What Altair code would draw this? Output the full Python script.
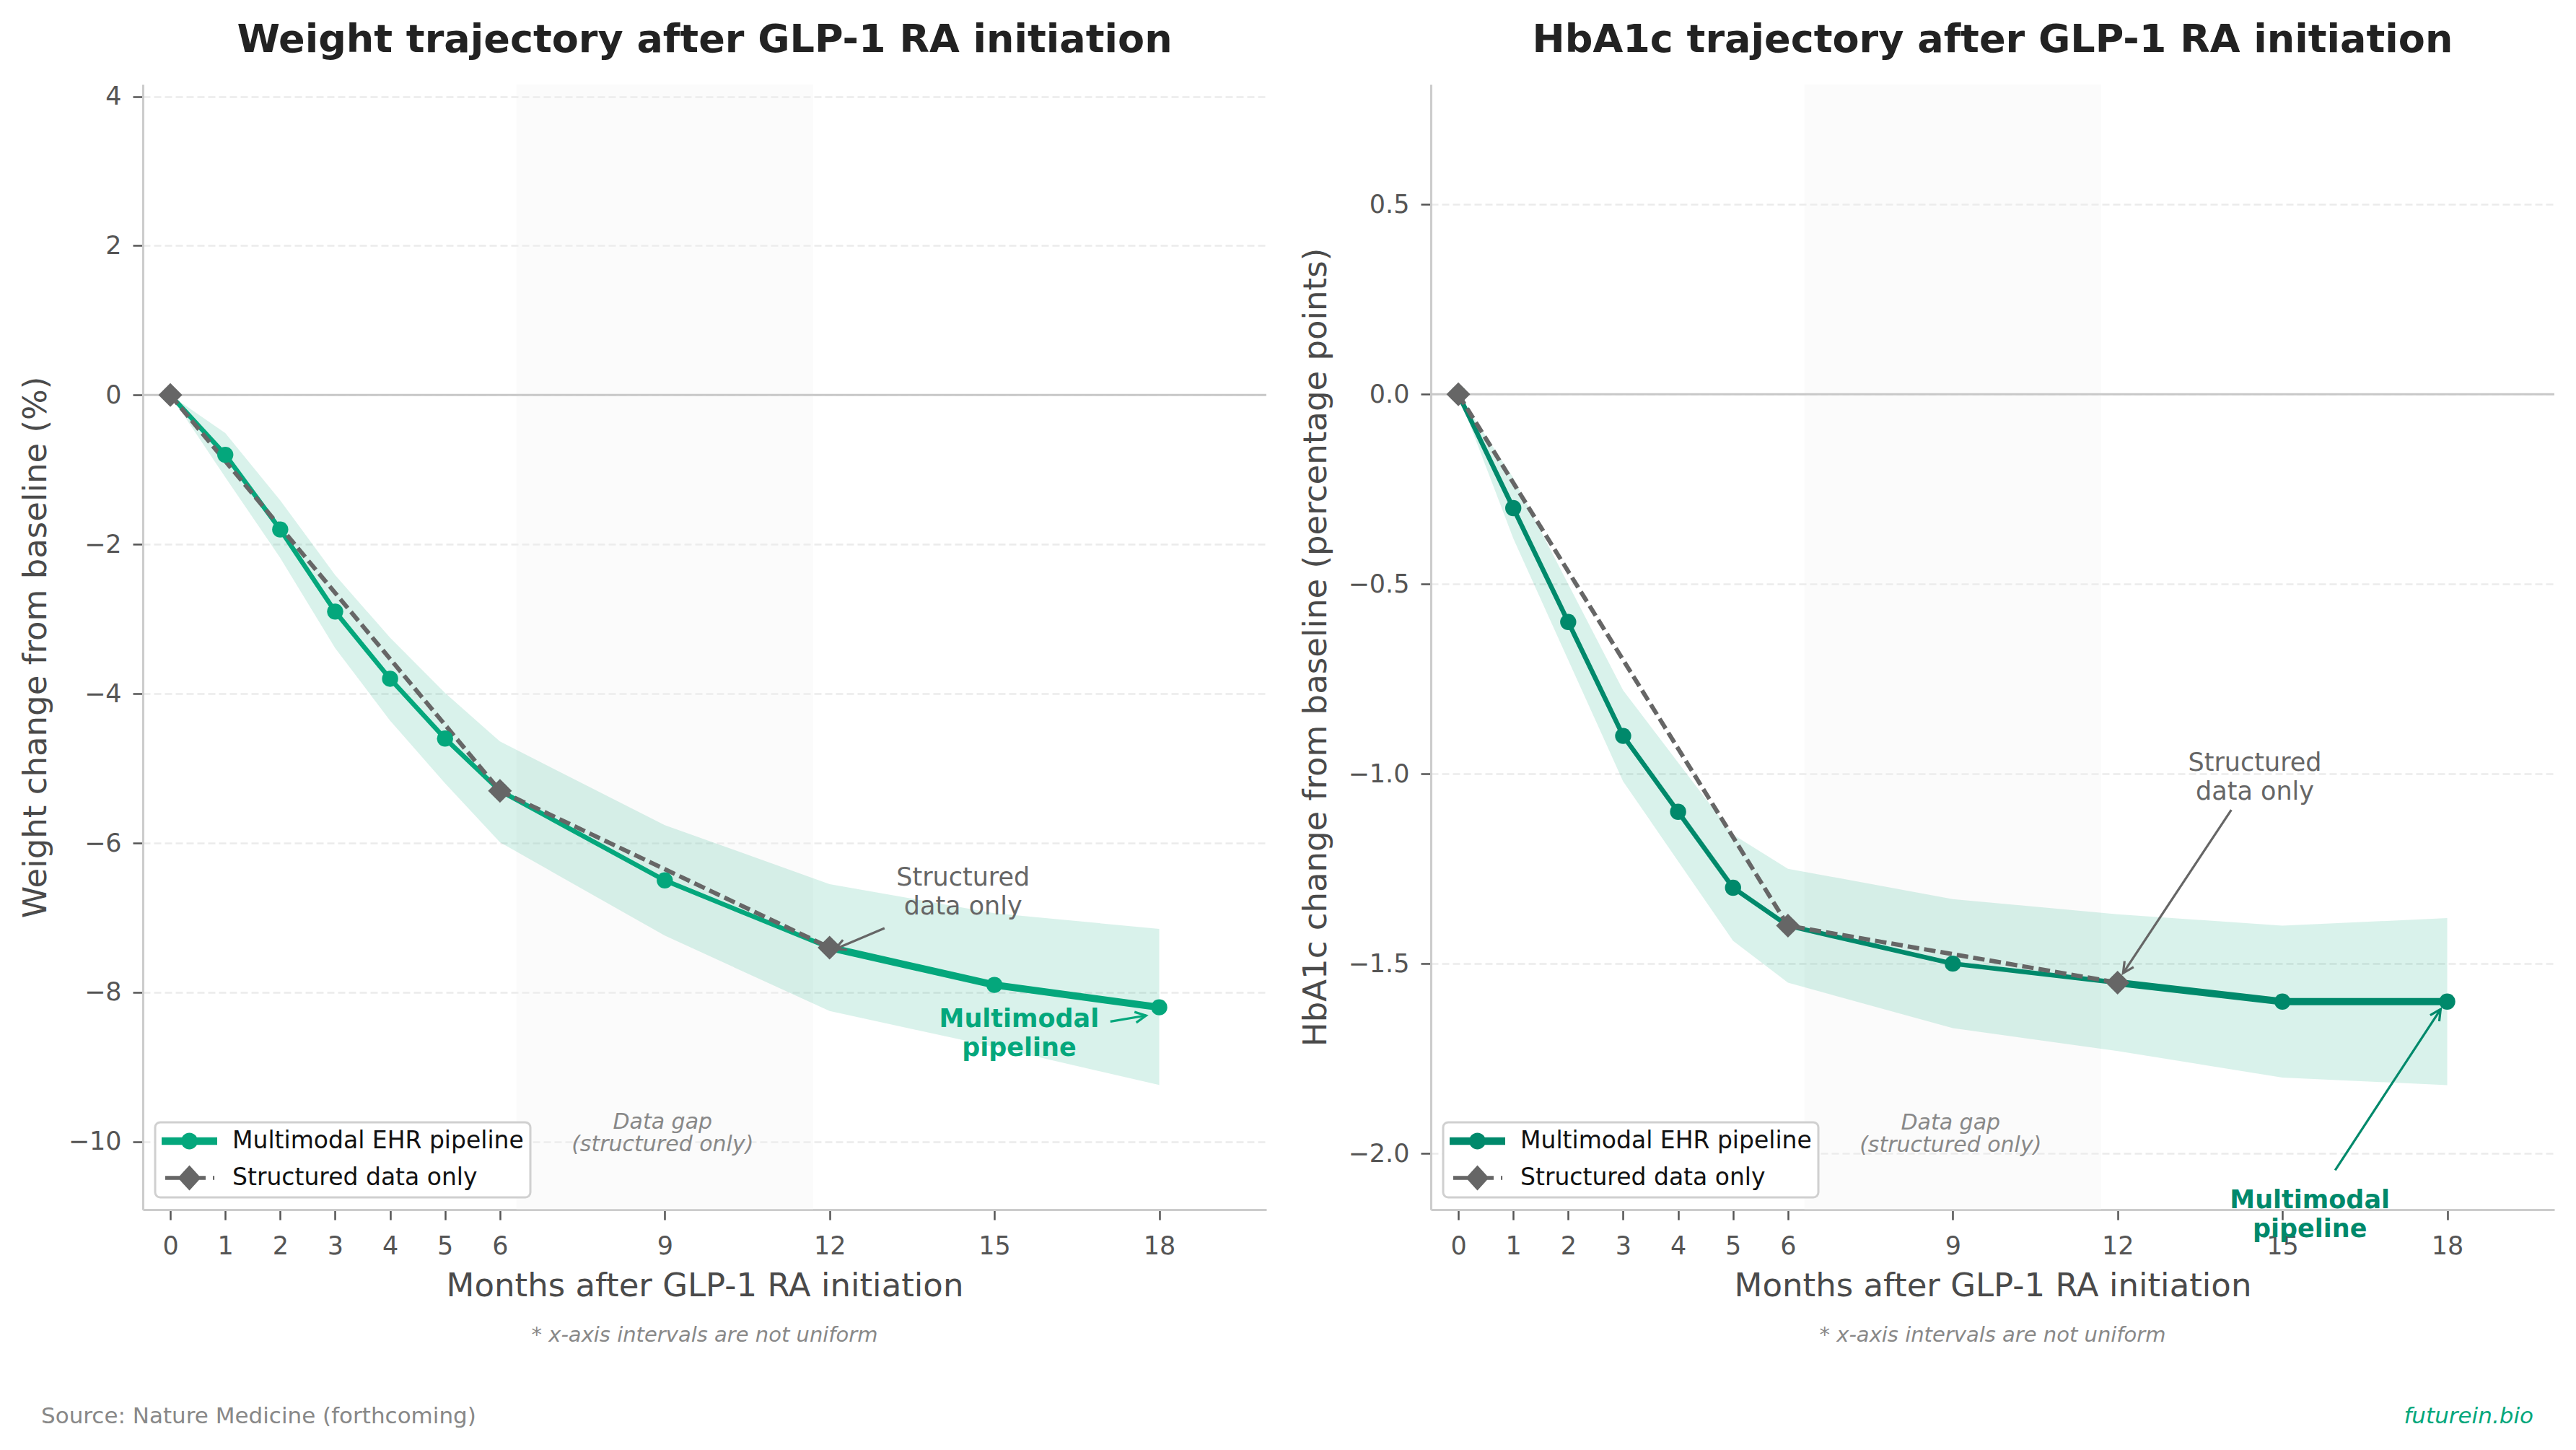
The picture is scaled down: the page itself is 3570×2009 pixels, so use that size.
import math
import altair as alt
import pandas as pd

# ---------------- data ----------------
months = [0, 1, 2, 3, 4, 5, 6, 9, 12, 15, 18]
weight_mm = [0, -0.8, -1.8, -2.9, -3.8, -4.6, -5.3, -6.5, -7.4, -7.9, -8.2]
weight_lo = [0, -1.1, -2.18, -3.39, -4.36, -5.20, -5.99, -7.24, -8.25, -8.73, -9.24]
weight_hi = [0, -0.51, -1.41, -2.41, -3.25, -3.99, -4.64, -5.76, -6.55, -6.94, -7.15]
hba1c_mm = [0, -0.3, -0.6, -0.9, -1.1, -1.3, -1.4, -1.5, -1.55, -1.6, -1.6]
hba1c_lo = [0, -0.38, -0.70, -1.02, -1.23, -1.44, -1.55, -1.67, -1.73, -1.80, -1.82]
hba1c_hi = [0, -0.22, -0.50, -0.78, -0.97, -1.16, -1.25, -1.33, -1.37, -1.40, -1.38]
struct_months = [0, 6, 12]
weight_struct = [0, -5.3, -7.4]
hba1c_struct = [0, -1.4, -1.55]
series = ["Multimodal EHR pipeline", "Structured data only"]
x_ticks = [0, 1, 2, 3, 4, 5, 6, 9, 12, 15, 18]
weight_ticks = [4, 2, 0, -2, -4, -6, -8, -10]
hba1c_ticks = [0.5, 0.0, -0.5, -1.0, -1.5, -2.0]
gap_start, gap_end = 6.3, 11.7

# annotations: (text, x, y)
weight_notes = [("Structured\ndata only", 14.43, -6.46), ("Multimodal\npipeline", 15.45, -8.36),
                ("Data gap\n(structured only)", 8.96, -9.743)]
hba1c_notes = [("Structured\ndata only", 14.5, -0.971), ("Multimodal\npipeline", 15.5, -2.123),
               ("Data gap\n(structured only)", 8.96, -1.919)]
# arrows: (x_from, y_from, x_to, y_to)
weight_arrows = [(13.0, -7.14, 12.1, -7.42), (17.11, -8.39, 17.76, -8.31)]
hba1c_arrows = [(14.07, -1.095, 12.1, -1.525), (15.96, -2.044, 17.88, -1.62)]

# ---------------- style ----------------
W, H = 1557, 1559
XDOM = [-0.5, 19.95]
FONT = "DejaVu Sans"
GREY = "#666666"

SYM_MM = ("M-1,-0.31L3.53,-0.31L3.53,0.31L-1,0.31Z "
          "M0.589,0A0.676,0.676 0 1,1 1.941,0A0.676,0.676 0 1,1 0.589,0Z")
SYM_ST = ("M-0.706,-0.159L2.588,-0.159L2.588,0.159L-0.706,0.159Z "
          "M3.176,-0.159L3.3,-0.159L3.3,0.159L3.176,0.159Z "
          "M1.265,-1.03L2.205,0L1.265,1.03L0.325,0Z")
CHEVRON = "M-1,-0.5L0,0L-1,0.5"


def panel(title, ytitle, ydom, yticks, yfmt, mm, lo, hi, st, color, notes, arrows):
    xs = alt.Scale(domain=XDOM, nice=False, zero=False)
    ys = alt.Scale(domain=ydom, nice=False, zero=False)
    xaxis = alt.Axis(values=x_ticks, title="Months after GLP-1 RA initiation", grid=False,
                     labelFontSize=35, labelColor="#555555", tickColor="#555555", tickSize=14,
                     tickWidth=2.5, domainColor="#cccccc", domainWidth=3, labelPadding=19,
                     titleFontSize=45, titleColor="#4a4a4a", titleFontWeight="normal",
                     titlePadding=15, labelFlush=False, format="d")
    yaxis = alt.Axis(values=yticks, title=ytitle, format=yfmt, grid=True, gridColor="#ebebeb",
                     gridDash=[10, 5], gridWidth=2.5, labelFontSize=35, labelColor="#555555",
                     tickColor="#555555", tickSize=14, tickWidth=2.5, domainColor="#cccccc",
                     domainWidth=3, labelPadding=16, titleFontSize=45, titleColor="#4a4a4a",
                     titleFontWeight="normal", titlePadding=22, labelFlush=False)

    def X(f):
        return alt.X(f, type="quantitative", scale=xs, axis=xaxis)

    def Y(f):
        return alt.Y(f, type="quantitative", scale=ys, axis=yaxis)

    df = pd.DataFrame({"month": months, "val": mm, "lo": lo, "hi": hi})
    sdf = pd.DataFrame({"month": struct_months, "val": st})
    legdf = pd.DataFrame({"month": months + struct_months, "val": mm + st,
                          "series": [series[0]] * len(months) + [series[1]] * len(struct_months)})

    legend = alt.Legend(
        title=None, orient="bottom-left", offset=17, labelFontSize=33, labelColor="#111111",
        labelFont=FONT, symbolSize=1156, symbolStrokeWidth=0, padding=9, rowPadding=16,
        labelOffset=64, fillColor="#ffffff", strokeColor="#d0d0d0", cornerRadius=7,
        labelLimit=1000, symbolOpacity=1)

    gap = alt.Chart(pd.DataFrame({"a": [gap_start], "b": [gap_end]})).mark_rect(
        color="#eeeeee", opacity=0.25).encode(x=X("a"), x2="b", y=alt.value(0), y2=alt.value(H))
    zero = alt.Chart(pd.DataFrame({"z": [0]})).mark_rule(color="#c8c8c8", strokeWidth=3).encode(
        y=Y("z"))
    band = alt.Chart(df).mark_area(color="#03A67A", opacity=0.15).encode(x=X("month"), y=Y("lo"), y2="hi")
    base = alt.Chart(df).mark_line(color=color, strokeWidth=6.5).encode(x=X("month"), y=Y("val"))
    ext = alt.Chart(df).transform_filter("datum.month >= 12").mark_line(
        color=color, strokeWidth=10).encode(x=X("month"), y=Y("val"))
    dash = alt.Chart(sdf).mark_line(color=GREY, strokeWidth=6, strokeDash=[16, 7]).encode(
        x=X("month"), y=Y("val"))
    circ = alt.Chart(df).mark_point(filled=True, size=500, opacity=1, strokeWidth=0,
                                    color=color, shape="circle").encode(x=X("month"), y=Y("val"))
    diam = alt.Chart(sdf).mark_point(filled=True, size=1089, opacity=1, strokeWidth=0,
                                     color=GREY, shape="diamond").encode(x=X("month"), y=Y("val"))
    # legend-only layer: no marks drawn, legend built from the explicit scale domains
    leg = alt.Chart(legdf).transform_filter("false").mark_point(filled=True, opacity=1).encode(
        x=X("month"), y=Y("val"),
        color=alt.Color("series:N", scale=alt.Scale(domain=series, range=[color, GREY]),
                        legend=legend),
        shape=alt.Shape("series:N", scale=alt.Scale(domain=series, range=[SYM_MM, SYM_ST]),
                        legend=legend))

    # annotations
    sx = W / (XDOM[1] - XDOM[0])
    sy = H / (ydom[1] - ydom[0])
    adf = pd.DataFrame([
        {"x0": a[0], "y0": a[1], "x1": a[2], "y1": a[3],
         "col": GREY if i == 0 else color,
         "ang": math.degrees(math.atan2(-(a[3] - a[1]) * sy, (a[2] - a[0]) * sx)) % 360}
        for i, a in enumerate(arrows)])
    arr_line = alt.Chart(adf).mark_rule(strokeWidth=3.2).encode(
        x=X("x0"), y=Y("y0"), x2="x1", y2="y1", color=alt.Color("col:N", scale=None))
    arr_head = alt.Chart(adf).mark_point(shape=CHEVRON, size=900, filled=False, strokeWidth=3.2,
                                         opacity=1).encode(
        x=X("x1"), y=Y("y1"), angle=alt.Angle("ang:Q", scale=None),
        color=alt.Color("col:N", scale=None))

    t1 = alt.Chart(pd.DataFrame([{"t": notes[0][0], "x": notes[0][1], "y": notes[0][2]}])).mark_text(
        lineBreak="\n", fontSize=35, color=GREY, align="center", baseline="middle",
        lineHeight=40, font=FONT).encode(x=X("x"), y=Y("y"), text="t:N")
    t2 = alt.Chart(pd.DataFrame([{"t": notes[1][0], "x": notes[1][1], "y": notes[1][2]}])).mark_text(
        lineBreak="\n", fontSize=35, color=color, fontWeight="bold", align="center",
        baseline="middle", lineHeight=40, font=FONT).encode(x=X("x"), y=Y("y"), text="t:N")
    t3 = alt.Chart(pd.DataFrame([{"t": notes[2][0], "x": notes[2][1], "y": notes[2][2]}])).mark_text(
        lineBreak="\n", fontSize=30, color="#888888", fontStyle="italic", align="center",
        baseline="middle", lineHeight=31, font=FONT).encode(x=X("x"), y=Y("y"), text="t:N")
    foot = alt.Chart(pd.DataFrame({"t": ["* x-axis intervals are not uniform"]})).mark_text(
        fontSize=29, color="#888888", fontStyle="italic", align="center", baseline="middle",
        font=FONT).encode(x=alt.value(W / 2), y=alt.value(1733), text="t:N")

    layers = [gap, zero, band, base, ext, dash, circ, diam, leg, arr_line, arr_head, t1, t2, t3, foot]
    return alt.layer(*layers).properties(
        width=W, height=H,
        title=alt.TitleParams(text=title, fontSize=54, fontWeight="bold", color="#222222",
                              anchor="middle", frame="group", baseline="alphabetic", offset=-9,
                              font=FONT))


left = panel("Weight trajectory after GLP-1 RA initiation", "Weight change from baseline (%)",
             [-10.91, 4.16], weight_ticks, "d", weight_mm, weight_lo, weight_hi, weight_struct,
             "#04A77C", weight_notes, weight_arrows)
right = panel("HbA1c trajectory after GLP-1 RA initiation",
              "HbA1c change from baseline (percentage points)",
              [-2.148, 0.816], hba1c_ticks, ".1f", hba1c_mm, hba1c_lo, hba1c_hi, hba1c_struct,
              "#00896B", hba1c_notes, hba1c_arrows)

source = alt.Chart(pd.DataFrame({"t": ["Source: Nature Medicine (forthcoming)"]})).mark_text(
    fontSize=31, color="#888888", align="left", baseline="middle", font=FONT).encode(
    x=alt.value(-141), y=alt.value(1846), text="t:N")
brand = alt.Chart(pd.DataFrame({"t": ["futurein.bio"]})).mark_text(
    fontSize=31, color="#04A77C", fontStyle="italic", align="right", baseline="middle",
    font=FONT).encode(x=alt.value(1528), y=alt.value(1846), text="t:N")

left = alt.layer(left, source)
right = alt.layer(right, brand)

chart = alt.hconcat(left, right, spacing=44).resolve_scale(
    color="independent", shape="independent", x="independent", y="independent"
).resolve_legend(color="independent", shape="independent").properties(
    padding={"left": 19, "top": 20, "right": 5, "bottom": 5}
).configure(font=FONT, background="#ffffff").configure_view(strokeWidth=0).configure_legend(
    strokeWidth=3)

chart.save("out.html", embed_options={"renderer": "svg", "actions": False})
